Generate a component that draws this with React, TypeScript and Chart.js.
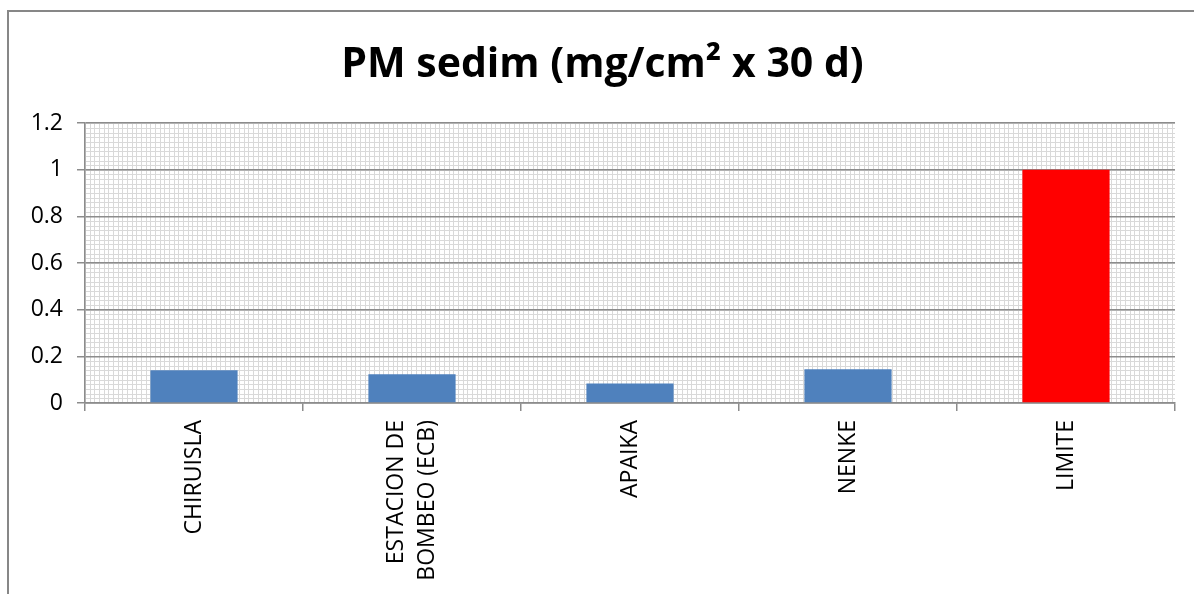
import React, { useEffect, useRef } from "react";
import { Chart, registerables } from "chart.js";

Chart.register(...registerables);

const categories: (string | string[])[] = [
  "CHIRUISLA",
  ["ESTACION DE", "BOMBEO (ECB)"],
  "APAIKA",
  "NENKE",
  "LIMITE",
];
const values: number[] = [0.14, 0.123, 0.084, 0.145, 1.0];
const barColors: string[] = ["#4F81BD", "#4F81BD", "#4F81BD", "#4F81BD", "#FF0000"];
const titleText = "PM sedim (mg/cm² x 30 d)";
const yMin = 0;
const yMax = 1.2;
const yStep = 0.2;
const minorStep = 0.02;

const minorGridPlugin = {
  id: "minorGrid",
  beforeDraw(chart: any) {
    const { ctx, chartArea, scales } = chart;
    const y = scales.y;
    if (!chartArea || !y) return;
    ctx.save();
    ctx.strokeStyle = "#d9d9d9";
    ctx.lineWidth = 1;
    const spacing = Math.abs(y.getPixelForValue(0) - y.getPixelForValue(minorStep));
    ctx.beginPath();
    const n = Math.round((yMax - yMin) / minorStep);
    for (let i = 0; i <= n; i++) {
      const py = Math.round(y.getPixelForValue(yMin + i * minorStep)) + 0.5;
      ctx.moveTo(chartArea.left, py);
      ctx.lineTo(chartArea.right, py);
    }
    for (let x = chartArea.left; x <= chartArea.right + 0.01; x += spacing) {
      const px = Math.round(x) + 0.5;
      ctx.moveTo(px, chartArea.top);
      ctx.lineTo(px, chartArea.bottom);
    }
    ctx.stroke();
    ctx.restore();
  },
};

// centre multi-line rotated category labels on their tick
const centerLabelsPlugin = {
  id: "centerLabels",
  beforeDraw(chart: any) {
    const x = chart.scales.x;
    if (!x || !x.getLabelItems) return;
    const items = x.getLabelItems();
    items.forEach((item: any) => {
      if (Array.isArray(item.label) && item.label.length > 1 && !item._centred) {
        const lh = item.font.lineHeight;
        item.options.translation[0] -= (lh * (item.label.length - 1)) / 2;
        item._centred = true;
      }
    });
  },
};

export default function App() {
  const ref = useRef<HTMLCanvasElement | null>(null);

  useEffect(() => {
    if (!ref.current) return;
    const chart = new Chart(ref.current, {
      type: "bar",
      data: {
        labels: categories,
        datasets: [
          {
            data: values,
            backgroundColor: barColors,
            borderWidth: 0,
            barPercentage: 0.4,
            categoryPercentage: 1.0,
            yAxisID: "y",
          },
        ],
      },
      options: {
        animation: false,
        responsive: false,
        maintainAspectRatio: false,
        layout: { padding: { top: 0, left: 15, right: 4, bottom: 0 } },
        plugins: {
          legend: { display: false },
          tooltip: { enabled: false },
          title: {
            display: true,
            text: titleText,
            color: "#000000",
            font: { family: "'Open Sans', sans-serif", size: 41, weight: "bold", lineHeight: 1.2 },
            padding: { top: 41, bottom: 33 },
          },
        },
        scales: {
          x: {
            grid: {
              display: true,
              drawOnChartArea: false,
              drawTicks: true,
              tickLength: 8,
              offset: true,
              color: "#8c8c8c",
              lineWidth: 1.5,
            },
            border: { display: true, color: "#8c8c8c", width: 1.5 },
            ticks: {
              color: "#000000",
              font: { family: "'Open Sans', sans-serif", size: 23, lineHeight: 1.35 },
              minRotation: 90,
              maxRotation: 90,
              padding: 9,
              autoSkip: false,
            },
            afterFit: (scale: any) => {
              scale.height = 191;
            },
          },
          y: {
            min: yMin,
            max: yMax,
            grid: {
              color: "#8c8c8c",
              lineWidth: 1.5,
              tickLength: 8,
              drawTicks: true,
            },
            border: { display: true, color: "#8c8c8c", width: 1.5 },
            ticks: {
              stepSize: yStep,
              color: "#000000",
              font: { family: "'Open Sans', sans-serif", size: 23 },
              padding: 14,
              callback: (v: any) => {
                const n = Number(v);
                return String(Math.round(n * 10) / 10);
              },
            },
            afterFit: (scale: any) => {
              scale.width = 70;
            },
          },
          ySpacer: {
            type: "linear",
            position: "right",
            display: true,
            min: yMin,
            max: yMax,
            grid: { display: false, drawTicks: false },
            border: { display: false },
            ticks: { display: false },
            afterFit: (scale: any) => {
              scale.width = 15;
            },
          },
        },
      },
      plugins: [minorGridPlugin, centerLabelsPlugin],
    });
    return () => chart.destroy();
  }, []);

  return (
    <div style={{ position: "fixed", left: 0, top: 0, width: 1194, height: 594, overflow: "hidden", background: "#ffffff" }}>
      <canvas ref={ref} width={1194} height={594} style={{ position: "absolute", left: 0, top: 0, display: "block" }} />
      <div
        style={{
          position: "absolute",
          left: 7,
          top: 10,
          width: 2000,
          height: 2000,
          borderLeft: "2px solid #878787",
          borderTop: "2px solid #878787",
          pointerEvents: "none",
        }}
      />
    </div>
  );
}
